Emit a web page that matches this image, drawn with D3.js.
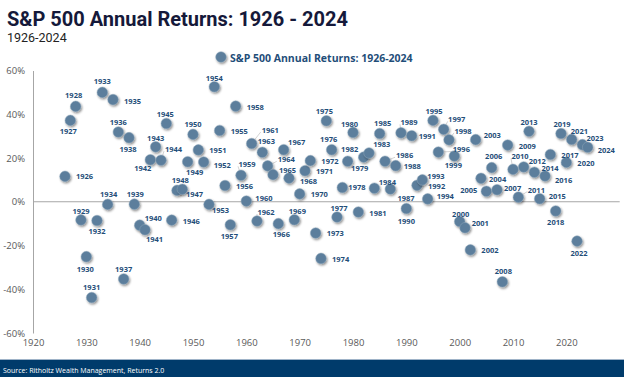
<!DOCTYPE html>
<html><head><meta charset="utf-8">
<script src="https://cdn.jsdelivr.net/npm/d3@7"></script>
<style>body{margin:0;background:#fff}svg{display:block}</style>
</head><body>
<svg id="c" width="624" height="377"></svg>
<script>
// ---- data ----
const years = [1926,1927,1928,1929,1930,1931,1932,1933,1934,1935,1936,1937,1938,1939,
1940,1941,1942,1943,1944,1945,1946,1947,1948,1949,1950,1951,1952,1953,1954,1955,1956,1957,1958,1959,
1960,1961,1962,1963,1964,1965,1966,1967,1968,1969,1970,1971,1972,1973,1974,1975,1976,1977,1978,1979,
1980,1981,1982,1983,1984,1985,1986,1987,1988,1989,1990,1991,1992,1993,1994,1995,1996,1997,1998,1999,
2000,2001,2002,2003,2004,2005,2006,2007,2008,2009,2010,2011,2012,2013,2014,2015,2016,2017,2018,2019,
2020,2021,2022,2023,2024];
const returns = [11.6,37.2,43.6,-8.3,-25.1,-43.8,-8.6,50.0,-1.2,46.7,31.9,-35.3,29.3,-1.1,
-10.7,-12.8,19.2,25.1,19.0,35.8,-8.4,5.2,5.7,18.3,30.8,23.7,18.2,-1.2,52.6,32.6,7.4,-10.5,43.7,12.1,
0.3,26.6,-8.8,22.6,16.4,12.4,-10.0,23.8,10.8,-8.2,3.6,14.2,18.8,-14.3,-25.9,37.0,23.8,-7.0,6.5,18.5,
31.7,-4.7,20.4,22.3,6.2,31.2,18.5,5.8,16.5,31.5,-3.1,30.2,7.5,10.0,1.3,37.2,22.7,33.1,28.3,20.9,
-9.0,-11.9,-22.0,28.4,10.7,4.8,15.6,5.5,-36.6,25.9,14.8,2.1,15.9,32.2,13.5,1.4,11.8,21.6,-4.2,31.2,
18.0,28.5,-18.0,26.1,24.9];
const yTickValues = [-60,-40,-20,0,20,40,60];
const xTickValues = [1920,1930,1940,1950,1960,1970,1980,1990,2000,2010,2020];
const titleText = "S&P 500 Annual Returns: 1926 - 2024";
const subtitleText = "1926-2024";
const legendText = "S&P 500 Annual Returns: 1926-2024";
const sourceText = "Source: Ritholtz Wealth Management, Returns 2.0";

// ---- label layout (offsets from the dot, in px: dx, dy, anchor) ----
const labelPlacement = {
1926:[11,0,'s'],1927:[-2,11,'m'],1928:[-2,-11,'m'],1929:[0,-8.5,'m'],1930:[-1,12,'m'],1931:[0,-11,'m'],
1932:[0,10,'m'],1933:[0,-11,'m'],1934:[1,-10,'m'],1935:[11,1,'s'],1936:[0,-10,'m'],1937:[0,-10,'m'],
1938:[-1,11,'m'],1939:[1,-10,'m'],1940:[5,-7,'s'],1941:[1,9,'s'],1942:[1,8.5,'e'],1943:[0,-9,'m'],
1944:[4,-11,'s'],1945:[-1,-9,'m'],1946:[11,1,'s'],1947:[9,4,'s'],1948:[-2,-9,'m'],1949:[7,10,'m'],
1950:[0,-10,'m'],1951:[11,0.5,'s'],1952:[10,3,'s'],1953:[3,6,'s'],1954:[0,-9,'m'],1955:[11,1,'s'],
1956:[11,0.5,'s'],1957:[-1,11,'m'],1958:[11,1,'s'],1959:[6,-11,'m'],1960:[9,-3,'s'],1961:[10,-13.5,'s'],
1962:[9,-9,'m'],1963:[4,-11,'m'],1964:[10,-6.5,'s'],1965:[6,-4.5,'s'],1966:[3,10,'m'],1967:[13,-8,'m'],
1968:[11,3,'s'],1969:[3,-9,'m'],1970:[11,0.5,'s'],1971:[11,0.5,'s'],1972:[11,0.5,'s'],1973:[11,0,'s'],
1974:[11,0.5,'s'],1975:[-2,-9.5,'m'],1976:[-3,-11,'m'],1977:[2,-8.6,'m'],1978:[6,-0.5,'s'],1979:[12,7,'m'],
1980:[-3.5,-8.5,'m'],1981:[11,0.5,'s'],1982:[-14,-8.3,'m'],1983:[12.7,-9,'m'],1984:[13,-6.3,'m'],
1985:[3,-11,'m'],1986:[11,-6,'s'],1987:[15.7,8.7,'m'],1988:[8,0.6,'s'],1989:[8,-10.5,'m'],1990:[0,12,'m'],
1991:[7,0.7,'s'],1992:[11,1,'s'],1993:[5,-3.6,'s'],1994:[9,-2.6,'s'],1995:[1,-9,'m'],1996:[23,-2.6,'m'],
1997:[13,-10,'m'],1998:[14,-9,'m'],1999:[-1,9,'m'],2000:[1,-7.4,'m'],2001:[6.7,-4.3,'s'],2002:[11,0,'s'],
2003:[8,-5,'s'],2004:[8,1,'s'],2005:[-9,-1,'e'],2006:[2,-12,'m'],2007:[7,-2,'s'],2008:[1,-11,'m'],
2009:[11,1,'s'],2010:[7,-13,'m'],2011:[18,-7.6,'m'],2012:[13.6,-5.5,'m'],2013:[0,-9,'m'],2014:[15.7,-4.5,'m'],
2015:[9,-2.5,'s'],2016:[10,4.4,'s'],2017:[11,0.7,'s'],2018:[0,11,'m'],2019:[1,-9.5,'m'],2020:[11,1,'s'],
2021:[7.7,-8,'m'],2022:[2,11.5,'m'],2023:[12.7,-7,'m'],2024:[10,2.5,'s']
};
const leaderYears = [1944,1959,1961,1962,1964,1986,1989,1996,1997,1998,2010,2011];

// ---- drawing ----
const svg = d3.select("#c");
const x = d3.scaleLinear().domain([1920,2030]).range([33,619.7]);
const y = d3.scaleLinear().domain([-60,60]).range([333,70.5]);
const data = years.map((yr,i)=>({year:yr,value:returns[i]}));

const defs = svg.append("defs");
const f = defs.append("filter").attr("id","sh").attr("x","-50%").attr("y","-50%").attr("width","200%").attr("height","200%");
f.append("feDropShadow").attr("dx",1).attr("dy",1.4).attr("stdDeviation",0.9)
 .attr("flood-color","#000").attr("flood-opacity",0.45);

// title
svg.append("text").attr("x",7).attr("y",26).text(titleText)
  .attr("font-family","Roboto, Inter, sans-serif").attr("font-weight",700)
  .attr("font-size",20.5).attr("fill","#15193a")
  .attr("textLength",341).attr("lengthAdjust","spacingAndGlyphs");
svg.append("text").attr("x",7).attr("y",42).text(subtitleText)
  .attr("font-family","Roboto, 'Open Sans', sans-serif").attr("font-size",12.5).attr("fill","#222");

// y axis
const yAxis = d3.axisLeft(y).tickValues(yTickValues).tickFormat(d=>d+"%").tickSize(0).tickPadding(8);
const gy = svg.append("g").attr("transform",`translate(${x(1920)},0)`).call(yAxis);
gy.select(".domain").attr("stroke","#a6a6a6").attr("stroke-width",1);
gy.selectAll("text").attr("font-family","'Open Sans', sans-serif").attr("font-size",9.5).attr("fill","#595959");

// x axis labels (no axis line, as in reference)
const xAxis = d3.axisBottom(x).tickValues(xTickValues).tickFormat(d3.format("d")).tickSize(0).tickPadding(6);
const gx = svg.append("g").attr("transform",`translate(0,${y(-60)})`).call(xAxis);
gx.select(".domain").remove();
gx.selectAll("text").attr("font-family","'Open Sans', sans-serif").attr("font-size",9.5).attr("fill","#595959");

// zero line
svg.append("line").attr("x1",x(1920)).attr("x2",x(2030)).attr("y1",y(0)).attr("y2",y(0))
  .attr("stroke","#a6a6a6").attr("stroke-width",1);

function labelPos(d){
  const p = labelPlacement[d.year] || [10,0,'s'];
  return {x:x(d.year)+p[0], y:y(d.value)+p[1], a:p[2]==='s'?'start':p[2]==='e'?'end':'middle'};
}
// leader lines
svg.append("g").selectAll("line").data(data.filter(d=>leaderYears.includes(d.year))).join("line")
  .attr("x1",d=>x(d.year)).attr("y1",d=>y(d.value))
  .attr("x2",d=>{const l=labelPos(d); return l.a==='start'? l.x-1 : l.x-9;})
  .attr("y2",d=>labelPos(d).y+2)
  .attr("stroke","#c8c8c8").attr("stroke-width",0.8);

// dots
svg.append("g").selectAll("circle").data(data).join("circle")
  .attr("cx",d=>x(d.year)).attr("cy",d=>y(d.value)).attr("r",5.3)
  .attr("fill","#5b7e9c").attr("stroke","#8ea6ba").attr("stroke-width",0.5)
  .attr("filter","url(#sh)");

// labels
svg.append("g").selectAll("text").data(data).join("text")
  .attr("x",d=>labelPos(d).x).attr("y",d=>labelPos(d).y)
  .attr("text-anchor",d=>labelPos(d).a).attr("dominant-baseline","central")
  .attr("font-family","'Open Sans', sans-serif").attr("font-weight",700).attr("font-size",7.5)
  .attr("fill","#1f4e79").text(d=>d.year);

// legend
const lg = svg.append("g").attr("transform","translate(221,57)");
lg.append("circle").attr("r",5.3).attr("fill","#5b7e9c").attr("stroke","#8ea6ba").attr("stroke-width",0.5).attr("filter","url(#sh)");
lg.append("text").attr("x",9).attr("y",0.5).attr("dominant-baseline","central")
  .attr("font-family","'Open Sans', sans-serif").attr("font-weight",700).attr("font-size",10.5)
  .attr("fill","#1f4e79").text(legendText);

// footer
svg.append("rect").attr("x",0).attr("y",359).attr("width",624).attr("height",18).attr("fill","#003b6b");
svg.append("line").attr("x1",0).attr("x2",624).attr("y1",359.5).attr("y2",359.5).attr("stroke","#9fb3c8").attr("stroke-width",1);
svg.append("text").attr("x",3).attr("y",370.5).attr("dominant-baseline","central")
  .attr("font-family","'Open Sans', sans-serif").attr("font-size",7).attr("fill","#ffffff").text(sourceText);
</script>
</body></html>
